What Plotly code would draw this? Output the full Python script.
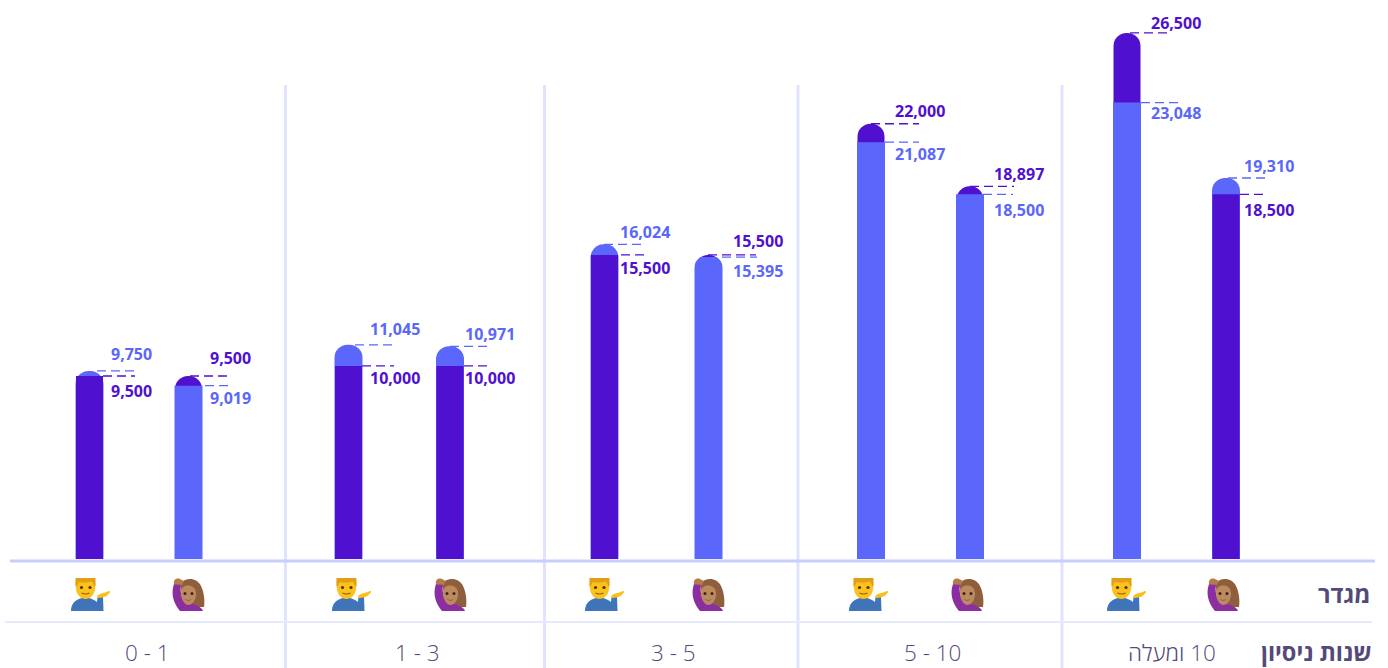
import base64
import plotly.graph_objects as go

# ---- data ----
EXPERIENCE = ["0 - 1", "1 - 3", "3 - 5", "5 - 10", "\u202b10 ומעלה\u202c"]
GENDER = ["man", "woman"]
BLUE_VALUES = [9750, 9019, 11045, 10971, 16024, 15395, 21087, 18500, 23048, 19310]
PURPLE_VALUES = [9500, 9500, 10000, 10000, 15500, 15500, 22000, 18897, 26500, 18500]
ROW_TITLES = ["מגדר", "שנות ניסיון"]

# ---- layout constants (axis units equal pixels on x) ----
W, H = 1388, 668
BAR_CENTERS = [89.5, 188.5, 348.5, 450, 604.5, 708.5, 871, 970, 1127, 1226]
SEPARATORS = [285.5, 544.5, 798, 1062]
GROUP_LABEL_X = [147, 417, 673, 932, 1172]
MAN_IMG_X = [71, 332, 585, 849, 1107]
WOMAN_IMG_X = [171, 433, 691, 950, 1206]
# leader-line start/end, label centre x, label centre y, per bar
BLUE_LEAD = [(97, 136, 131.5, 354), (205, 228, 230, 398), (355, 394, 395, 329), (450, 490, 490, 334), (604, 645, 645, 232),
             (722, 757, 758, 271), (885, 919, 920, 154), (983, 1013, 1019, 210), (1141, 1178, 1176, 113), (1228, 1267, 1269, 166)]
PURPLE_LEAD = [(103, 135, 131.5, 391), (190, 229, 230, 358), (362, 394, 395, 378), (464, 490, 490, 378), (621, 645, 645, 268),
               (708, 756, 758, 241), (871, 919, 920, 111), (970, 1014, 1019, 174), (1130, 1171, 1176, 23), (1240, 1266, 1269, 210)]
FRONT_RADIUS = [0, 0, 0, 0, 0, 13, 0, 2, 0, 0]

BLUE, PURPLE = "#5a67fa", "#4f10cf"
GRID, AXIS, ROW_LINE, INK = "#e0e3fd", "#c9cdfb", "#e6e8fc", "#544a7a"
FONT = "Open Sans"

# y scale: value 0 sits below the plot's lower edge, bars are clipped at the axis
PX_PER_UNIT = 0.02018
Y_BOTTOM_PX, Y_ZERO_PX = 559, 567.7
y_range = [(Y_ZERO_PX - Y_BOTTOM_PX) / PX_PER_UNIT, Y_ZERO_PX / PX_PER_UNIT]


def py(px):
    return 1 - px / H


fig = go.Figure()
for i, cx in enumerate(BAR_CENTERS):
    b, p = BLUE_VALUES[i], PURPLE_VALUES[i]
    pair = [(b, BLUE, 28), (p, PURPLE, 27)]
    pair.sort(key=lambda t: -t[0])
    for k, (v, col, wid) in enumerate(pair):
        fig.add_trace(go.Bar(x=[cx], y=[v], width=[wid], marker=dict(color=col, line_width=0,
                             cornerradius=13.5 if k == 0 else FRONT_RADIUS[i]),
                             hoverinfo="skip", showlegend=False))

annotations = []
for vals, leads, col in ((BLUE_VALUES, BLUE_LEAD, BLUE), (PURPLE_VALUES, PURPLE_LEAD, PURPLE)):
    for v, (x0, x1, lx, ly) in zip(vals, leads):
        fig.add_trace(go.Scatter(x=[x0, x1], y=[v, v], mode="lines", hoverinfo="skip", showlegend=False,
                                 line=dict(color=col, width=1.3, dash="9px,5px")))
        annotations.append(dict(x=lx, y=py(ly), xref="x", yref="paper", text=f"{v:,}", showarrow=False,
                                xanchor="center", yanchor="middle",
                                font=dict(family=FONT, size=16, color=col, weight=700)))

for label, x in zip(EXPERIENCE, GROUP_LABEL_X):
    annotations.append(dict(x=x, y=py(652), xref="x", yref="paper", text=label, showarrow=False,
                            xanchor="center", yanchor="middle",
                            font=dict(family=FONT, size=22.5, color=INK, weight=300)))
for title, ypx, xr in zip(ROW_TITLES, (594, 651.5), (1372, 1374)):
    annotations.append(dict(x=xr, y=py(ypx), xref="x", yref="paper", text=title, showarrow=False,
                            xanchor="right", yanchor="middle",
                            font=dict(family=FONT, size=23.5, color=INK, weight=700)))

shapes = [dict(type="line", xref="x", yref="paper", x0=x, x1=x, y0=0, y1=py(85),
               line=dict(color=GRID, width=3), layer="below") for x in SEPARATORS]
shapes.append(dict(type="line", xref="x", yref="paper", x0=10, x1=1375, y0=py(561), y1=py(561),
                   line=dict(color=AXIS, width=3)))
shapes.append(dict(type="line", xref="x", yref="paper", x0=5, x1=1372, y0=py(622), y1=py(622),
                   line=dict(color=ROW_LINE, width=2)))

MAN_SVG = """<svg xmlns='http://www.w3.org/2000/svg' width='40' height='33' viewBox='0 0 40 33'>
<path d='M0 33 C0 26 4 21.5 11 20 L18 20 C21 21 24 22 26 24 L26.5 19 L32 18.5 L32.5 33 Z' fill='#3f74b8'/>
<path d='M5 0 H23.5 C24.5 5 24.5 9 24 11 C23.5 17 19 21 14.5 21 C10 21 5.5 17 5 11 C4.5 9 4.5 5 5 0 Z' fill='#fcc21b'/>
<path d='M4.5 0 H24.5 L24.5 8 L23 8 C22.5 5 21.5 4 20 3.5 C16 5 11 5 8 4 C7 5 6.5 6 6 8 L4.5 8 Z' fill='#e39e18'/>
<circle cx='10.5' cy='9.5' r='1.6' fill='#4d3310'/><circle cx='19' cy='9.5' r='1.6' fill='#4d3310'/>
<path d='M10.5 15 q4 2 8 0' stroke='#8a5a10' stroke-width='1.1' fill='none'/>
<path d='M26 19 C27 15 33 15.5 38 13 C39.5 13 39.5 15 37.5 15.8 C36.5 19 30 20 26.5 20 Z' fill='#fbbf1c'/>
</svg>"""
WOMAN_SVG = """<svg xmlns='http://www.w3.org/2000/svg' width='34' height='33' viewBox='0 0 34 33'>
<path d='M9 6 C14 -1 26 -1 30 8 C33 14 34 22 33 29 L14 29 Z' fill='#8f5e3c'/>
<path d='M3 6 C2 2 5 0 8 0.5 L13 3 L10 8 Z' fill='#b57a4a'/>
<path d='M3 6 L10 7 C9 12 10 18 13 23 C18 25 26 26 31 31 L32 33 H9 C4 27 -1 18 3 6 Z' fill='#8b2fa0'/>
<path d='M10 15 C10 9 14 7 18 7.5 C23 8 25.5 12 25 17 C24.5 23 21 27 17.5 27 C13.5 27 10 21 10 15 Z' fill='#bd8a60'/>
<circle cx='14' cy='15.5' r='1.5' fill='#3d2415'/><circle cx='21' cy='15.5' r='1.5' fill='#3d2415'/>
<path d='M13.5 21 q4 2.2 7.5 0 q-3.5 3.2 -7.5 0z' fill='#4a4a4a'/>
</svg>"""


def uri(svg):
    return "data:image/svg+xml;base64," + base64.b64encode(svg.encode()).decode()


images = []
for src, xs, w in ((MAN_SVG, MAN_IMG_X, 40), (WOMAN_SVG, WOMAN_IMG_X, 34)):
    for x in xs:
        images.append(dict(source=uri(src), xref="x", yref="paper", x=x, y=py(578), sizex=w, sizey=33 / H,
                           xanchor="left", yanchor="top", sizing="stretch", layer="above"))

fig.update_layout(
    width=W, height=H, autosize=False, margin=dict(l=0, r=0, t=0, b=0),
    paper_bgcolor="white", plot_bgcolor="white", barmode="overlay", showlegend=False, hovermode=False,
    xaxis=dict(range=[0, W], visible=False, fixedrange=True),
    yaxis=dict(range=y_range, domain=[1 - Y_BOTTOM_PX / H, 1], visible=False, fixedrange=True),
    annotations=annotations, shapes=shapes, images=images,
)
fig.write_html("out.html", config={"displayModeBar": False},
               default_width=f"{W}px", default_height=f"{H}px",
               post_script="document.body.style.margin='0';")
